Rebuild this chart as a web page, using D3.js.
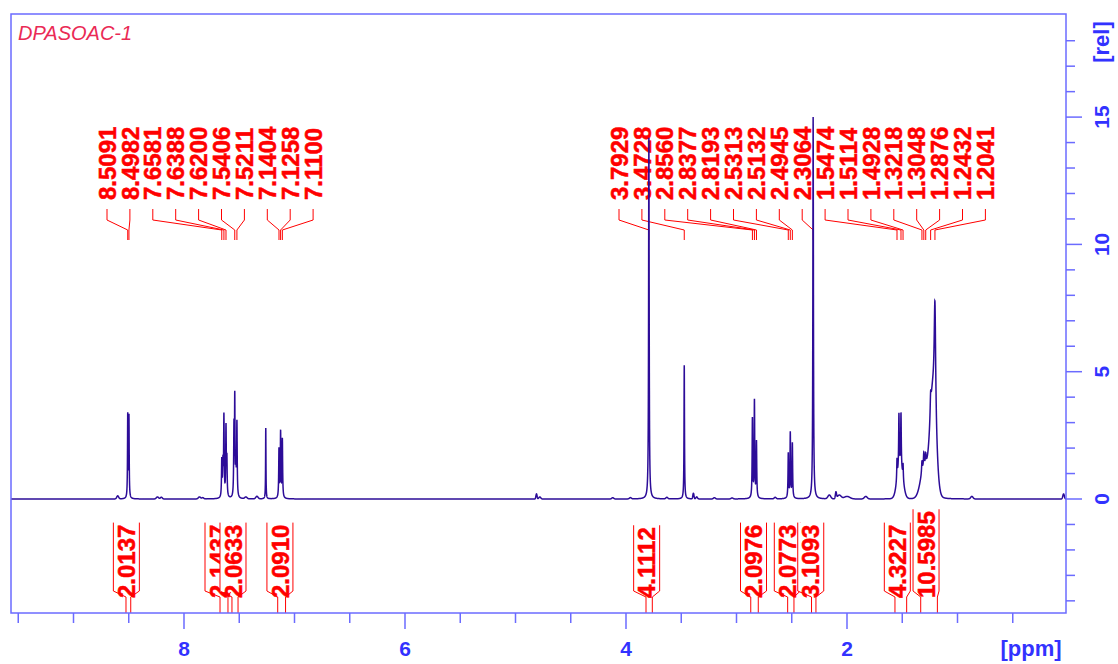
<!DOCTYPE html>
<html>
<head>
<meta charset="utf-8">
<script src="https://cdn.jsdelivr.net/npm/d3@7"></script>
<style>
  html, body { margin: 0; padding: 0; background: #fff; }
  svg { display: block; }
</style>
</head>
<body>
<svg id="chart" width="1118" height="664"></svg>
<script>
'use strict';

// ─── Data ─────────────────────────────────────────────────────────────────────
const sampleName = 'DPASOAC-1';
const xMajorTicks = [8, 6, 4, 2];
const yMajorTicks = [0, 5, 10, 15];

// peak list: [ppm, height (rel), half width (ppm), shape L/G]
const peaks = [
  [8.600, 0.12, 0.010, 'G'],
  [8.5091, 3.25, 0.0025, 'L'],
  [8.4982, 3.20, 0.0025, 'L'],
  [8.240, 0.08, 0.012, 'G'],
  [8.205, 0.07, 0.010, 'G'],
  [7.860, 0.08, 0.012, 'G'],
  [7.830, 0.05, 0.010, 'G'],
  [7.6581, 1.45, 0.003, 'L'],
  [7.6480, 1.20, 0.003, 'L'],
  [7.6388, 3.15, 0.003, 'L'],
  [7.6200, 2.70, 0.003, 'L'],
  [7.6120, 1.40, 0.003, 'L'],
  [7.5480, 2.60, 0.003, 'L'],
  [7.5406, 3.70, 0.0025, 'L'],
  [7.5310, 1.30, 0.003, 'L'],
  [7.5211, 2.90, 0.003, 'L'],
  [7.440, 0.07, 0.012, 'G'],
  [7.340, 0.10, 0.012, 'G'],
  [7.2600, 2.78, 0.002, 'L'],
  [7.1404, 1.90, 0.003, 'L'],
  [7.1258, 2.55, 0.003, 'L'],
  [7.1100, 2.30, 0.003, 'L'],
  [4.810, 0.20, 0.006, 'G'],
  [4.780, 0.08, 0.010, 'G'],
  [4.120, 0.05, 0.010, 'G'],
  [3.960, 0.05, 0.010, 'G'],
  [3.7929, 14.2, 0.003, 'L'],
  [3.630, 0.06, 0.010, 'G'],
  [3.4728, 5.25, 0.0025, 'L'],
  [3.390, 0.22, 0.006, 'G'],
  [3.360, 0.08, 0.008, 'G'],
  [3.200, 0.05, 0.010, 'G'],
  [3.040, 0.04, 0.010, 'G'],
  [2.8560, 3.10, 0.003, 'L'],
  [2.8377, 3.80, 0.003, 'L'],
  [2.8193, 2.20, 0.003, 'L'],
  [2.650, 0.06, 0.010, 'G'],
  [2.5313, 1.75, 0.003, 'L'],
  [2.5132, 2.55, 0.003, 'L'],
  [2.4945, 2.15, 0.003, 'L'],
  [2.3064, 15.0, 0.003, 'L'],
  [2.160, 0.15, 0.015, 'G'],
  [2.100, 0.25, 0.006, 'G'],
  [2.070, 0.15, 0.020, 'G'],
  [2.000, 0.10, 0.030, 'G'],
  [1.830, 0.10, 0.015, 'G'],
  [1.520, 1.30, 0.030, 'G'],
  [1.5474, 0.80, 0.003, 'L'],
  [1.5300, 2.10, 0.003, 'L'],
  [1.5114, 2.10, 0.003, 'L'],
  [1.4928, 0.60, 0.003, 'L'],
  [1.300, 1.20, 0.040, 'G'],
  [1.3218, 0.45, 0.004, 'L'],
  [1.3048, 0.55, 0.004, 'L'],
  [1.2876, 0.40, 0.004, 'L'],
  [1.222, 4.00, 0.032, 'G'],
  [1.2432, 0.80, 0.005, 'L'],
  [1.2041, 4.50, 0.008, 'L'],
  [0.870, 0.10, 0.012, 'G'],
  [0.040, 0.20, 0.008, 'G'],
];

// picked peak labels, two label groups
const peakLabelsLeft = ['8.5091', '8.4982', '7.6581', '7.6388', '7.6200',
                        '7.5406', '7.5211', '7.1404', '7.1258', '7.1100'];
const peakLabelsRight = ['3.7929', '3.4728', '2.8560', '2.8377', '2.8193', '2.5313',
                         '2.5132', '2.4945', '2.3064', '1.5474', '1.5114', '1.4928',
                         '1.3218', '1.3048', '1.2876', '1.2432', '1.2041'];

// integrals: value and ppm range
const integralValues = ['2.0137', '2.1437', '2.0633', '2.0910', '4.1112',
                        '2.0976', '2.0773', '3.1093', '4.3227', '10.5985'];
const integralFrom = [8.525, 7.674, 7.566, 7.152, 3.819, 2.871, 2.537, 2.321, 1.566, 1.333];
const integralTo   = [8.482, 7.602, 7.511, 7.081, 3.762, 2.803, 2.480, 2.281, 1.460, 1.182];

// ─── Layout ───────────────────────────────────────────────────────────────────
const FRAME = { left: 11, right: 1066, top: 14, bottom: 613 };
const FRAME_COLOR = '#6b6bff';
const AXIS_TEXT = '#3232ff';
const RED = '#ff0000';
const SPEC_COLOR = '#2c0c98';
const FONT = '"Liberation Sans", Arial, sans-serif';

const LABEL_STEP = 22.9;
const LABEL_START = [107, 619];       // x of first label in each group
const LABEL_BASE_Y = 200;
const INT_SHIFT = [-2, -6, -2, -1.7, -2.5, -1, -3.5, -3, -3.5, -3];
const INT_BASE_Y = 598;
const INT_HALF_W = 13;

const x = d3.scaleLinear().domain([9.5656, 0.0181]).range([FRAME.left, FRAME.right]);
const y = d3.scaleLinear().domain([0, 15]).range([499, 499 - 15 * 25.46]);

const svg = d3.select('#chart');

// red rotated label used for peaks and integrals
function redLabel(sel, lx, ly, txt) {
  return sel.append('text')
    .attr('transform', `translate(${lx},${ly}) rotate(-90)`)
    .attr('dy', '0.36em')
    .attr('font-family', FONT).attr('font-weight', 'bold')
    .attr('font-size', 24).attr('fill', RED)
    .attr('stroke', RED).attr('stroke-width', 0.5)
    .text(txt);
}

// ─── Title ────────────────────────────────────────────────────────────────────
svg.append('text')
  .attr('x', 18).attr('y', 40)
  .attr('font-family', FONT).attr('font-style', 'italic')
  .attr('font-size', 20).attr('fill', '#ea2a55')
  .text(sampleName);

// ─── Integrals ────────────────────────────────────────────────────────────────
const intG = svg.append('g');
integralValues.forEach((val, i) => {
  const x1 = x(integralFrom[i]), x2 = x(integralTo[i]);
  const bx = (x1 + x2) / 2 + INT_SHIFT[i];
  const g = intG.append('g');
  const bg = g.append('rect').attr('fill', '#fff');
  const t = redLabel(g, bx, INT_BASE_Y, val);
  const top = INT_BASE_Y - t.node().getComputedTextLength() - 2;
  bg.attr('x', bx - INT_HALF_W).attr('y', top)
    .attr('width', INT_HALF_W * 2).attr('height', 592 - top);
  const path = d3.path();
  path.moveTo(bx - INT_HALF_W, top); path.lineTo(bx - INT_HALF_W, 591);
  path.lineTo(x1, 597); path.lineTo(x1, FRAME.bottom);
  path.moveTo(bx + INT_HALF_W, top); path.lineTo(bx + INT_HALF_W, 591);
  path.lineTo(x2, 597); path.lineTo(x2, FRAME.bottom);
  g.insert('path', 'text').attr('d', path.toString())
    .attr('fill', 'none').attr('stroke', RED).attr('stroke-width', 1);
});

// ─── Peak labels ──────────────────────────────────────────────────────────────
const labG = svg.append('g');
[peakLabelsLeft, peakLabelsRight].forEach((labels, gi) => {
  labels.forEach((lab, i) => {
    const lx = LABEL_START[gi] + i * LABEL_STEP;
    const px = x(+lab);
    redLabel(labG, lx, LABEL_BASE_Y, lab);
    labG.append('path')
      .attr('d', `M${lx},209V220L${px},230V240`)
      .attr('fill', 'none').attr('stroke', RED).attr('stroke-width', 1);
  });
});

// ─── Spectrum ─────────────────────────────────────────────────────────────────
function intensity(p) {
  let s = 0;
  for (const [c, h, w, shape] of peaks) {
    const d = (p - c) / w;
    if (shape === 'L') s += h / (1 + d * d);
    else if (d * d < 40) s += h * Math.exp(-Math.LN2 * d * d);
  }
  return s;
}
const pts = [];
for (let p = 9.5656; p >= 0.0181; p -= 0.0004) pts.push([p, intensity(p)]);

svg.append('clipPath').attr('id', 'clip').append('rect')
  .attr('x', FRAME.left).attr('y', FRAME.top)
  .attr('width', FRAME.right - FRAME.left).attr('height', FRAME.bottom - FRAME.top);

svg.append('path')
  .datum(pts)
  .attr('clip-path', 'url(#clip)')
  .attr('d', d3.line().x(d => x(d[0])).y(d => y(d[1])))
  .attr('fill', 'none').attr('stroke', SPEC_COLOR).attr('stroke-width', 1.5);

// ─── Frame and axes ───────────────────────────────────────────────────────────
svg.append('rect')
  .attr('x', FRAME.left).attr('y', FRAME.top)
  .attr('width', FRAME.right - FRAME.left).attr('height', FRAME.bottom - FRAME.top)
  .attr('fill', 'none').attr('stroke', FRAME_COLOR).attr('stroke-width', 1.5);

// x axis: minor every 0.5 ppm, major labelled every 2 ppm
const xMinor = d3.range(0.5, 9.51, 0.5);
svg.append('g').selectAll('line').data(xMinor).join('line')
  .attr('x1', d => x(d)).attr('x2', d => x(d))
  .attr('y1', FRAME.bottom)
  .attr('y2', d => FRAME.bottom + (xMajorTicks.includes(d) ? 16 : 10))
  .attr('stroke', FRAME_COLOR).attr('stroke-width', 1.5);
svg.append('g').selectAll('text').data(xMajorTicks).join('text')
  .attr('x', d => x(d)).attr('y', 656)
  .attr('text-anchor', 'middle')
  .attr('font-family', FONT).attr('font-weight', 'bold')
  .attr('font-size', 21).attr('fill', AXIS_TEXT)
  .text(d => d);
svg.append('text')
  .attr('x', 1031).attr('y', 656).attr('text-anchor', 'middle')
  .attr('font-family', FONT).attr('font-weight', 'bold')
  .attr('font-size', 22).attr('fill', AXIS_TEXT)
  .text('[ppm]');

// y axis on the right: ticks every 1, labels every 5
const yMinor = d3.range(-4, 19);
svg.append('g').selectAll('line').data(yMinor).join('line')
  .attr('x1', FRAME.right)
  .attr('x2', d => FRAME.right + (yMajorTicks.includes(d) ? 16 : 9))
  .attr('y1', d => y(d)).attr('y2', d => y(d))
  .attr('stroke', FRAME_COLOR).attr('stroke-width', 1.5);
svg.append('g').selectAll('text').data(yMajorTicks).join('text')
  .attr('transform', d => `translate(1101,${y(d)}) rotate(-90)`)
  .attr('dy', '0.36em').attr('text-anchor', 'middle')
  .attr('font-family', FONT).attr('font-weight', 'bold')
  .attr('font-size', 21).attr('fill', AXIS_TEXT)
  .text(d => d);
svg.append('text')
  .attr('transform', `translate(1101,42) rotate(-90)`)
  .attr('dy', '0.36em').attr('text-anchor', 'middle')
  .attr('font-family', FONT).attr('font-weight', 'bold')
  .attr('font-size', 22).attr('fill', AXIS_TEXT)
  .text('[rel]');
</script>
</body>
</html>
